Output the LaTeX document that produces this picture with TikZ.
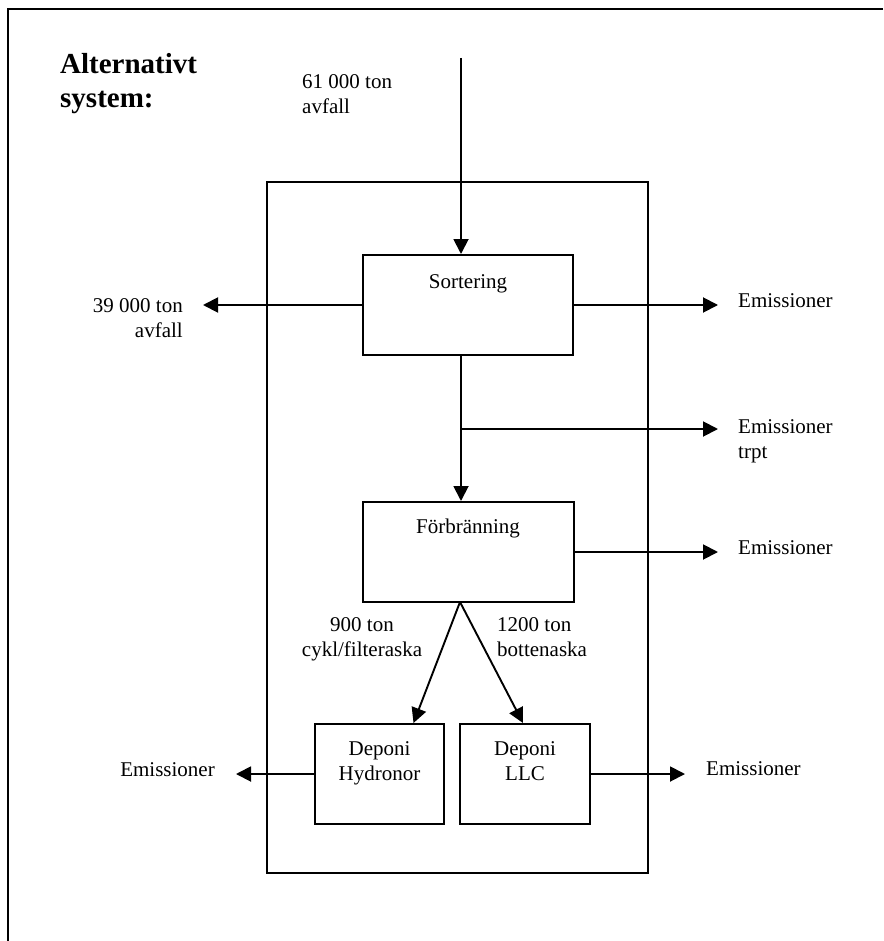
\documentclass[tikz,border=0pt]{standalone}
\usepackage{fontspec}
\setmainfont{Liberation Serif}
\usetikzlibrary{arrows.meta, positioning}

\begin{document}
\begin{tikzpicture}[x=1pt, y=-1pt,
    box/.style={draw, line width=2pt, inner sep=0pt},
    lbl/.style={inner sep=0pt, align=center, font=\fontsize{21}{25}\selectfont},
    flow/.style={line width=1.9pt, -{Triangle[length=15pt,width=15pt]}}]
\useasboundingbox (0,0) rectangle (883,941);
% Frame
\draw[line width=2.5pt] (883,9) -- (8,9) -- (8,941);
\node[anchor=north west, inner sep=0pt, align=left, font=\fontsize{29}{34}\selectfont\bfseries] (title) at (60,53) {Alternativt\\system:};

% System boundary
\draw[box] (267,182) rectangle (648,873);

% Processes
\node[box, minimum width=210pt, minimum height=100pt] (sort) at (468,305) {};
\node[lbl, anchor=base] (sortT) at (468,288) {Sortering};
\node[box, minimum width=211pt, minimum height=100pt] (forb) at (468.5,552) {};
\node[lbl, anchor=base] (forbT) at (468,533) {Förbränning};
\node[box, minimum width=129pt, minimum height=100pt] (depH) at (379.5,774) {};
\node[lbl, anchor=north] (depHT) at (379.5,741) {Deponi\\Hydronor};
\node[box, minimum width=130pt, minimum height=100pt] (depL) at (525,774) {};
\node[lbl, anchor=north] (depLT) at (525,741) {Deponi\\LLC};

% In- and outflows at sorting
\coordinate (inTop) at (461,58);
\node[lbl, anchor=north west, align=left] (inT) at (302,74) {61 000 ton\\avfall};
\draw[flow] (inTop) -- (inTop |- sort.north);
\node[lbl, anchor=north east, align=right] (outT) at (183,298) {39 000 ton\\avfall};
\draw[flow, shorten >=20pt] (sort.west) -- (sort.west -| outT.east);
\node[lbl, anchor=mid west] (emS) at (738,305) {Emissioner};
\draw[flow, shorten >=20pt] (sort.east) -- (sort.east -| emS.west);

% Transport
\draw[flow] (sort.south -| inTop) -- (forb.north -| inTop);
\coordinate (trp) at (461,429);
\node[lbl, anchor=north west, align=left] (emT) at (738,419) {Emissioner\\trpt};
\draw[flow, shorten >=20pt] (trp) -- (trp -| emT.west);

% Incineration
\node[lbl, anchor=mid west] (emF) at (738,552) {Emissioner};
\draw[flow, shorten >=20pt] (forb.east) -- (forb.east -| emF.west);
\coordinate (ash) at (460,602);
\node[lbl, anchor=north] (ashH) at (362,617) {900 ton\\cykl/filteraska};
\node[lbl, anchor=north west, align=left] (ashL) at (497,617) {1200 ton\\bottenaska};
\draw[flow] (ash) -- ([xshift=34pt]depH.north);
\draw[flow] (ash) -- ([xshift=-2pt]depL.north);

% Landfills
\node[lbl, anchor=mid east] (emH) at (215,774) {Emissioner};
\draw[flow, shorten >=21pt] (depH.west) -- (depH.west -| emH.east);
\node[lbl, anchor=mid west] (emL) at (706,773) {Emissioner};
\draw[flow, shorten >=21pt] (depL.east) -- (depL.east -| emL.west);
\end{tikzpicture}
\end{document}
